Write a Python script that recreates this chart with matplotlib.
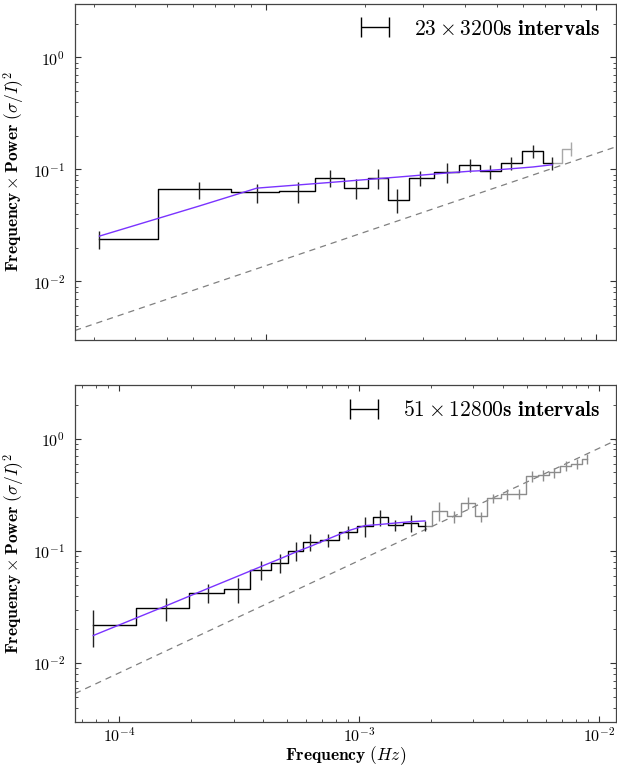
import numpy as np
import matplotlib
matplotlib.use('Agg')
import matplotlib.pyplot as plt
from matplotlib.ticker import LogLocator, NullFormatter
from matplotlib.container import ErrorbarContainer
from matplotlib.legend_handler import HandlerErrorbar

plt.rcParams['mathtext.fontset'] = 'cm'
plt.rcParams['font.family'] = 'serif'
plt.rcParams['font.serif'] = ['cmr10', 'DejaVu Serif']
plt.rcParams['axes.formatter.use_mathtext'] = True

# ---------------- data: top panel (23 x 3200 s intervals) ----------------
top_freq = [3.125e-4, 6.25e-4, 9.375e-4, 1.25e-3, 1.5625e-3, 1.875e-3, 2.1875e-3,
            2.5e-3, 2.93e-3, 3.53e-3, 4.15e-3, 4.77e-3, 5.52e-3, 6.44e-3, 7.36e-3,
            8.40e-3]
top_power = [0.0237, 0.0663, 0.0626, 0.0640, 0.0843, 0.0681, 0.0843, 0.0536,
             0.0843, 0.0946, 0.110, 0.096, 0.114, 0.146, 0.114, 0.153]
top_err = [0.0044, 0.0116, 0.0122, 0.0138, 0.0139, 0.0133, 0.0173, 0.0127,
           0.0130, 0.0185, 0.0151, 0.0142, 0.0148, 0.0195, 0.0157, 0.022]
top_fit = [0.0254, 0.0470, 0.0681, 0.0727, 0.0765, 0.0799, 0.0828, 0.0854,
           0.0888, 0.0929, 0.0964, 0.0982, 0.1014, 0.1052, 0.1101]
top_nblack = 15
top_noise = 13.85
top_label = r'$23\times3200\mathbf{s\ intervals}$'
top_xlim = (2.635e-4, 1.146e-2)

# ---------------- data: bottom panel (51 x 12800 s intervals) ----------------
bot_freq = [7.8125e-5, 1.5625e-4, 2.34375e-4, 3.125e-4, 3.90625e-4, 4.6875e-4,
            5.46875e-4, 6.25e-4, 7.45e-4, 9.02e-4, 1.06e-3, 1.22e-3, 1.41e-3,
            1.64e-3, 1.884e-3, 2.162e-3, 2.48e-3, 2.85e-3, 3.22e-3, 3.63e-3,
            4.15e-3, 4.64e-3, 5.25e-3, 5.86e-3, 6.52e-3, 7.27e-3, 8.07e-3, 8.89e-3]
bot_power = [0.0221, 0.0311, 0.0423, 0.0459, 0.0682, 0.0782, 0.1006, 0.121,
             0.1253, 0.1466, 0.166, 0.1995, 0.170, 0.1774, 0.168, 0.228, 0.203,
             0.267, 0.203, 0.294, 0.321, 0.320, 0.461, 0.474, 0.501, 0.573,
             0.593, 0.658]
bot_err = [0.008, 0.0072, 0.0082, 0.0113, 0.0126, 0.0152, 0.019, 0.0215, 0.0167,
           0.020, 0.033, 0.032, 0.020, 0.030, 0.018, 0.042, 0.024, 0.032, 0.021,
           0.029, 0.035, 0.033, 0.052, 0.053, 0.051, 0.059, 0.061, 0.067]
bot_fit = [0.01766, 0.0323, 0.0463, 0.0596, 0.0726, 0.0851, 0.098, 0.1094,
           0.128, 0.1513, 0.168, 0.172, 0.177, 0.182, 0.185]
bot_nblack = 15
bot_noise = 82.0
bot_label = r'$51\times12800\mathbf{s\ intervals}$'
bot_xlim = (6.556e-5, 1.172e-2)

ylim = (3.0e-3, 3.0)

W, H = 617, 767
fig = plt.figure(figsize=(W / 100, H / 100), dpi=100)

def px_axes(l, t, r, b):
    return fig.add_axes([l / W, 1 - b / H, (r - l) / W, (b - t) / H])

ax_top = px_axes(75, 4, 615.5, 340)
ax_bot = px_axes(75, 385, 615.5, 722)

BLACK = 'black'
PURPLE = '#7a33ff'


def draw_panel(ax, freq, power, err, fit, nblack, noise, label, xlim, gray):
    freq = np.asarray(freq); power = np.asarray(power); err = np.asarray(err)
    k = nblack
    # gray continuation (shares the last black point)
    ax.plot(freq[k - 1:], power[k - 1:], drawstyle='steps-mid', color=gray, lw=1.0, zorder=2)
    ax.errorbar(freq[k:], power[k:], yerr=err[k:], fmt='none', ecolor=gray,
                elinewidth=1.0, capsize=0, zorder=2)
    # black part
    ax.plot(freq[:k], power[:k], drawstyle='steps-mid', color=BLACK, lw=1.0, zorder=3)
    ax.errorbar(freq[:k], power[:k], yerr=err[:k], fmt='none', ecolor='#222222',
                elinewidth=1.0, capsize=0, zorder=3)
    # model fit
    ax.plot(freq[:k], fit, color=PURPLE, lw=1.0, zorder=4)
    # noise level line
    xx = np.array(xlim)
    ax.plot(xx, noise * xx, ls=(0, (5, 4)), color='#808080', lw=0.9, zorder=1)

    ax.set_xscale('log'); ax.set_yscale('log')
    ax.set_xlim(*xlim); ax.set_ylim(*ylim)
    ax.xaxis.set_major_locator(LogLocator(base=10))
    ax.xaxis.set_minor_locator(LogLocator(base=10, subs=np.arange(2, 10)))
    ax.yaxis.set_major_locator(LogLocator(base=10))
    ax.yaxis.set_minor_locator(LogLocator(base=10, subs=np.arange(2, 10)))
    ax.xaxis.set_minor_formatter(NullFormatter())
    ax.yaxis.set_minor_formatter(NullFormatter())
    ax.tick_params(which='both', direction='in', top=True, right=True,
                   color='#333333', labelsize=11.5)
    ax.tick_params(which='major', length=4, width=0.8)
    ax.tick_params(axis='y', which='major', pad=7)
    ax.tick_params(axis='x', which='major', pad=3)
    ax.tick_params(which='minor', length=2, width=0.6)
    for s in ax.spines.values():
        s.set_color('#444444'); s.set_linewidth(0.9)
    ax.set_ylabel(r'$\mathbf{Frequency\times Power}\ (\sigma/I)^2$', fontsize=12.5, labelpad=4)

    h = ax.errorbar([np.nan], [np.nan], xerr=[np.nan], fmt='none', ecolor=BLACK,
                    elinewidth=1.0, capsize=7, capthick=1.0, label=label)
    ax.legend(handles=[h], loc='upper right', frameon=False, fontsize=15.5,
              handler_map={ErrorbarContainer: HandlerErrorbar(xerr_size=0.65)},
              handlelength=1.5, handletextpad=1.05, borderaxespad=0.3)


draw_panel(ax_top, top_freq, top_power, top_err, top_fit, top_nblack, top_noise,
           top_label, top_xlim, '#a8a8a8')
ax_top.tick_params(labelbottom=False)

draw_panel(ax_bot, bot_freq, bot_power, bot_err, bot_fit, bot_nblack, bot_noise,
           bot_label, bot_xlim, '#8c8c8c')
ax_bot.set_xlabel(r'$\mathbf{Frequency}\ (Hz)$', fontsize=12.5, labelpad=0)

fig.savefig('out.png', dpi=100)
